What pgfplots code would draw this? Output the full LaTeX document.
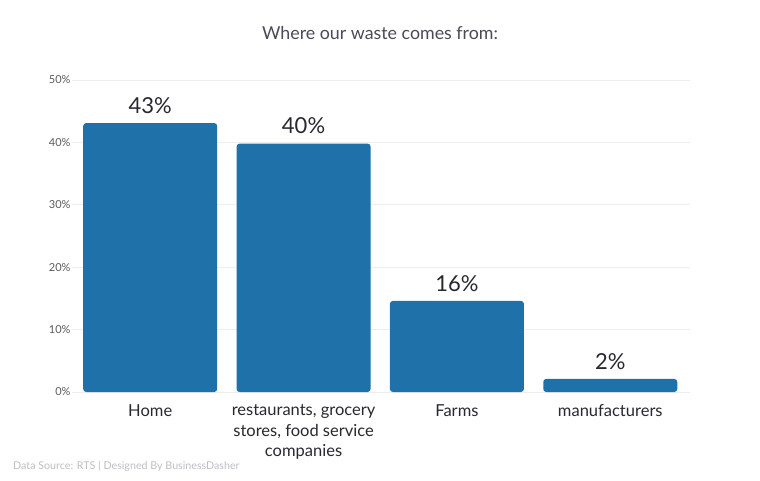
\documentclass[border=0pt]{standalone}
\usepackage{pgfplots}
\pgfplotsset{compat=1.18}
\usepackage{fontspec}
\setmainfont{Lato}
\definecolor{barblue}{RGB}{31,113,170}
\definecolor{titlegray}{RGB}{75,75,88}
\definecolor{labgray}{RGB}{40,40,48}
\definecolor{tickgray}{RGB}{90,90,95}
\definecolor{srcgray}{RGB}{190,190,198}
\definecolor{gridc}{RGB}{238,238,240}
\begin{document}
\begin{tikzpicture}[x=1pt,y=1pt]
\useasboundingbox (0,0) rectangle (760,480);
\fill[white] (0,0) rectangle (760,480);
\begin{axis}[
  at={(72pt,88pt)}, anchor=south west,
  scale only axis, width=618pt, height=312pt,
  xmin=-0.51, xmax=3.52, ymin=0, ymax=50,
  ybar, bar width=134pt,
  axis line style={draw=none},
  major tick style={draw=none},
  ymajorgrids, grid style={color=gridc, line width=0.8pt},
  ytick={0,10,20,30,40,50},
  /pgf/number format/assume math mode=true,
  yticklabel={\pgfmathprintnumber{\tick}\%},
  yticklabel style={font=\fontsize{11}{13}\selectfont, color=tickgray, xshift=2pt},
  xtick={0,1,2,3},
  xticklabels={Home, {restaurants, grocery\\stores, food service\\companies}, Farms, manufacturers},
  xticklabel style={font=\fontsize{16.5}{20.5}\selectfont, color=labgray, align=center, yshift=-5pt},
  point meta=explicit symbolic,
  nodes near coords={\pgfplotspointmeta\%},
  nodes near coords style={font=\fontsize{22}{26}\selectfont, color=labgray, anchor=south, yshift=6pt},
]
\addplot[fill=barblue, draw=none, rounded corners=3pt] table[x=x, y=y, meta=lab] {
x y lab
0 43.1 43
1 39.8 40
2 14.6 16
3 2.1 2
};
\end{axis}
\node[font=\fontsize{17.8}{22}\selectfont, color=titlegray] at (380,447) {Where our waste comes from:};
\node[font=\fontsize{10.7}{13}\selectfont, color=srcgray, anchor=base west, inner sep=0pt] at (13,11) {Data Source: RTS | Designed By BusinessDasher};
\end{tikzpicture}
\end{document}
